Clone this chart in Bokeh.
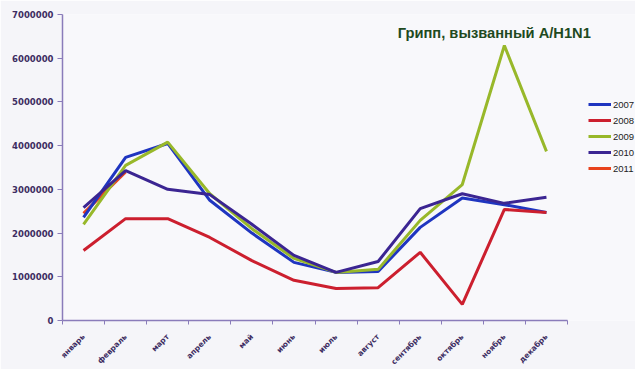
from bokeh.plotting import figure
from bokeh.models import FixedTicker, NumeralTickFormatter, Legend, LegendItem, Range1d, Label
from bokeh.embed import file_html
from bokeh.resources import INLINE
import math

months = ["январь", "февраль", "март", "апрель", "май", "июнь", "июль",
          "август", "сентябрь", "октябрь", "ноябрь", "декабрь"]
y2007 = [2360000, 3730000, 4050000, 2750000, 2000000, 1330000, 1100000, 1120000, 2130000, 2800000, 2650000, 2470000]
y2008 = [1600000, 2330000, 2330000, 1900000, 1370000, 920000, 730000, 750000, 1560000, 370000, 2540000, 2470000]
y2009 = [2200000, 3550000, 4080000, 2900000, 2100000, 1420000, 1100000, 1170000, 2290000, 3110000, 6290000, 3870000]
y2010 = [2580000, 3430000, 3000000, 2880000, 2200000, 1490000, 1100000, 1350000, 2560000, 2900000, 2680000, 2820000]
y2011 = [2450000, 3400000]
years = ["2007", "2008", "2009", "2010", "2011"]
colors = ["#1f35c0", "#cc1f2e", "#98b82a", "#3b2592", "#e8421c"]
title_text = "Грипп, вызванный A/H1N1"

xs = list(range(len(months)))
unit_px = 505 / 12.0
frame_w = 573

p = figure(frame_width=frame_w, frame_height=306, output_backend="svg", toolbar_location=None,
           x_range=Range1d(-0.5, -0.5 + frame_w / unit_px), y_range=Range1d(0, 7000000),
           min_border_left=62, min_border_top=14, min_border_bottom=40, min_border_right=0,
           background_fill_color="#f8f8fb", border_fill_color="#f5f5f9", outline_line_color=None)
p.grid.visible = False

axis_color = "#8a7cba"
label_color = "#3d2d62"

p.yaxis.ticker = FixedTicker(ticks=[i * 1000000 for i in range(8)])
p.yaxis.formatter = NumeralTickFormatter(format="0")
p.yaxis.axis_line_color = axis_color
p.yaxis.axis_line_width = 1.5
p.yaxis.major_tick_line_color = axis_color
p.yaxis.major_tick_in = 0
p.yaxis.major_tick_out = 5
p.yaxis.minor_tick_line_color = None
p.yaxis.major_label_text_font = "DejaVu Sans"
p.yaxis.major_label_text_font_style = "bold"
p.yaxis.major_label_text_font_size = "8.5px"
p.yaxis.major_label_text_color = label_color
p.yaxis.major_label_standoff = 4

p.xaxis.ticker = FixedTicker(ticks=xs, minor_ticks=[x - 0.5 for x in xs] + [11.5])
p.xaxis.bounds = (-0.5, 11.5)
p.xaxis.major_label_overrides = {i: m for i, m in enumerate(months)}
p.xaxis.major_label_orientation = math.pi / 4
p.xaxis.axis_line_color = axis_color
p.xaxis.axis_line_width = 1.5
p.xaxis.major_tick_line_color = None
p.xaxis.minor_tick_line_color = axis_color
p.xaxis.minor_tick_in = 0
p.xaxis.minor_tick_out = 4
p.xaxis.major_label_text_font = "DejaVu Sans"
p.xaxis.major_label_text_font_style = "bold"
p.xaxis.major_label_text_font_size = "7.5px"
p.xaxis.major_label_text_color = label_color
p.xaxis.major_label_standoff = 9

series = [y2007, y2008, y2009, y2010, y2011]
renderers = {}
order = [4, 0, 1, 2, 3]
for i in order:
    ys = series[i]
    r = p.line(xs[:len(ys)], ys, line_color=colors[i], line_width=3)
    renderers[i] = r

items = [LegendItem(label=years[i], renderers=[renderers[i]]) for i in range(5)]
legend = Legend(items=items, location=(526, 144), orientation="vertical",
                background_fill_alpha=0, border_line_color=None,
                glyph_width=23, glyph_height=16, spacing=0, padding=0, margin=0,
                label_standoff=2, label_text_font="Liberation Sans",
                label_text_font_size="9.5px", label_text_color="#222222",
                label_height=16)
p.add_layout(legend, "center")

title = Label(x=9.76, y=6570000, text=title_text, text_align="center",
              text_baseline="middle", text_font="Liberation Sans",
              text_font_size="14.7px", text_font_style="bold", text_color="#1f4a1f")
p.add_layout(title)

open("out.html", "w").write(file_html(p, INLINE))
